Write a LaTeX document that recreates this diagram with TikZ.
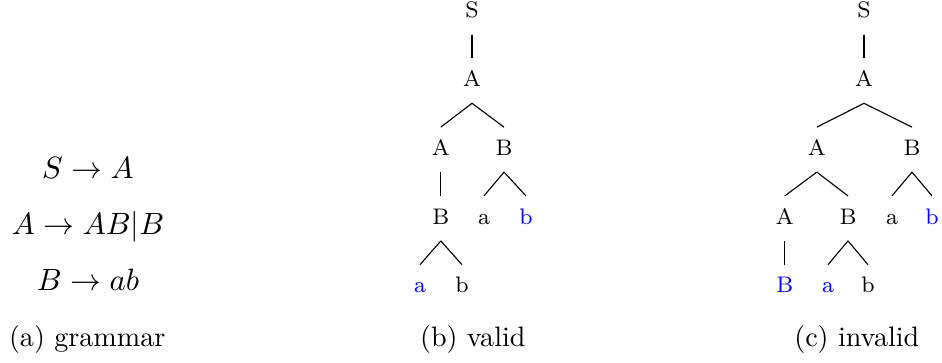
\documentclass[tikz,border=0pt]{standalone}
\usepackage{amsmath}
\usetikzlibrary{positioning}

\begin{document}
\begin{tikzpicture}[
    sym/.style={font=\footnotesize, inner xsep=1pt, inner ysep=4.2pt,
      text height=5.6pt, text depth=1.6pt},
    hl/.style={sym, text=blue},
    prod/.style={font=\fontsize{11}{13}\selectfont, anchor=base},
    subcap/.style={anchor=base},
  ]
    \useasboundingbox (0,0) rectangle (11.775,-4.525);

    \node[prod] (g1) at (1.1, -2.225) {$S \to A$};
    \node[prod] (g2) at (1.1, -2.925) {$A \to AB|B$};
    \node[prod] (g3) at (1.1, -3.625) {$B \to ab$};
    \node[subcap] (ca) at (1.09, -4.325) {(a) grammar};

    \node[sym] (vs) at (5.9, -0.15) {S};
    \node[sym] (va) at (5.9, -1.01) {A};
    \node[sym] (va2) at (5.51, -1.87) {A};
    \node[sym] (vb2) at (6.3, -1.87) {B};
    \node[sym] (vb3) at (5.51, -2.73) {B};
    \node[sym] (vx3) at (6.05, -2.73) {a};
    \node[hl] (vy3) at (6.575, -2.73) {b};
    \node[hl] (vx4) at (5.25, -3.59) {a};
    \node[sym] (vy4) at (5.775, -3.59) {b};
    \node[subcap] (cb) at (5.91, -4.325) {(b) valid};

    \draw (vs.south) -- (va.north);
    \draw (va.south) -- (va2.north);
    \draw (va.south) -- (vb2.north);
    \draw (va2.south) -- (vb3.north);
    \draw (vb2.south) -- (vx3.north);
    \draw (vb2.south) -- (vy3.north);
    \draw (vb3.south) -- (vx4.north);
    \draw (vb3.south) -- (vy4.north);

    \node[sym] (is) at (10.8, -0.15) {S};
    \node[sym] (ia) at (10.8, -1.01) {A};
    \node[sym] (ia2) at (10.21, -1.87) {A};
    \node[sym] (ib2) at (11.4, -1.87) {B};
    \node[sym] (ia3) at (9.81, -2.73) {A};
    \node[sym] (ib3) at (10.6, -2.73) {B};
    \node[sym] (ix3) at (11.15, -2.73) {a};
    \node[hl] (iy3) at (11.65, -2.73) {b};
    \node[hl] (ib4) at (9.81, -3.59) {B};
    \node[hl] (ix4) at (10.35, -3.59) {a};
    \node[sym] (iy4) at (10.85, -3.59) {b};
    \node[subcap] (cc) at (10.71, -4.325) {(c) invalid};

    \draw (is.south) -- (ia.north);
    \draw (ia.south) -- (ia2.north);
    \draw (ia.south) -- (ib2.north);
    \draw (ia2.south) -- (ia3.north);
    \draw (ia2.south) -- (ib3.north);
    \draw (ib2.south) -- (ix3.north);
    \draw (ib2.south) -- (iy3.north);
    \draw (ia3.south) -- (ib4.north);
    \draw (ib3.south) -- (ix4.north);
    \draw (ib3.south) -- (iy4.north);
\end{tikzpicture}
\end{document}
